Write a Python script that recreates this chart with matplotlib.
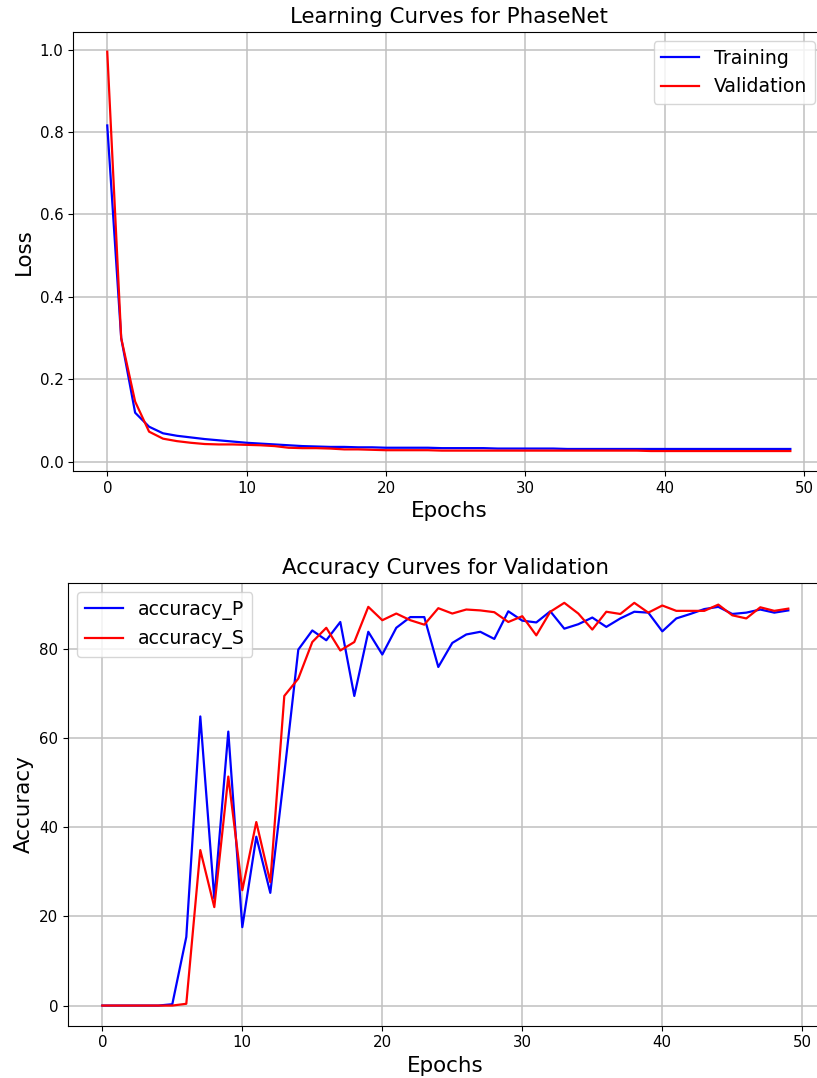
import numpy as np
import matplotlib
matplotlib.use("Agg")
import matplotlib.pyplot as plt

epochs = list(range(50))

train_loss = [0.816, 0.300, 0.119, 0.085, 0.069, 0.063, 0.059, 0.055, 0.052, 0.049,
              0.046, 0.044, 0.042, 0.040, 0.038, 0.037, 0.036, 0.036, 0.035, 0.035,
              0.034, 0.034, 0.034, 0.034, 0.033, 0.033, 0.033, 0.033, 0.032, 0.032,
              0.032, 0.032, 0.032, 0.031, 0.031, 0.031, 0.031, 0.031, 0.031, 0.031,
              0.031, 0.031, 0.031, 0.031, 0.031, 0.031, 0.031, 0.031, 0.031, 0.031]
val_loss = [0.995, 0.300, 0.146, 0.073, 0.056, 0.050, 0.046, 0.043, 0.042, 0.042,
            0.041, 0.040, 0.038, 0.034, 0.033, 0.033, 0.032, 0.030, 0.030, 0.029,
            0.028, 0.028, 0.028, 0.028, 0.027, 0.027, 0.027, 0.027, 0.027, 0.027,
            0.027, 0.027, 0.027, 0.027, 0.027, 0.027, 0.027, 0.027, 0.027, 0.026,
            0.026, 0.026, 0.026, 0.026, 0.026, 0.026, 0.026, 0.026, 0.026, 0.026]

acc_P = [0.0, 0.0, 0.0, 0.0, 0.0, 0.3, 15.4, 64.9, 24.0, 61.5,
         17.6, 37.9, 25.3, 52.0, 79.9, 84.2, 82.0, 86.1, 69.5, 83.9,
         78.8, 84.8, 87.2, 87.2, 76.0, 81.4, 83.3, 83.9, 82.3, 88.5,
         86.4, 86.0, 88.5, 84.6, 85.6, 87.1, 85.0, 86.9, 88.4, 88.2,
         84.0, 86.9, 87.9, 89.0, 89.5, 87.9, 88.2, 88.9, 88.2, 88.7]
acc_S = [0.0, 0.0, 0.0, 0.0, 0.0, 0.0, 0.4, 34.9, 22.1, 51.4,
         25.9, 41.2, 27.7, 69.5, 73.4, 81.6, 84.8, 79.7, 81.6, 89.5,
         86.5, 88.0, 86.5, 85.5, 89.2, 88.0, 88.9, 88.7, 88.3, 86.1,
         87.4, 83.1, 88.4, 90.4, 88.0, 84.4, 88.4, 87.9, 90.4, 88.2,
         89.8, 88.6, 88.6, 88.6, 90.0, 87.6, 86.9, 89.4, 88.6, 89.1]

tick_fs = 10.8
label_fs = 15.4
legend_fs = 13.6
lw = 1.6

fig = plt.figure(figsize=(8.17, 10.78), dpi=100)

ax1 = fig.add_axes([73.1 / 817, 1 - 471 / 1078, 751.4 / 817, 439.3 / 1078])
ax1.plot(epochs, train_loss, color="blue", lw=lw, label="Training")
ax1.plot(epochs, val_loss, color="red", lw=lw, label="Validation")
ax1.set_title("Learning Curves for PhaseNet", fontsize=label_fs)
ax1.set_xlabel("Epochs", fontsize=label_fs)
ax1.set_ylabel("Loss", fontsize=label_fs)
ax1.grid(True, color="#c0c0c0", lw=1.1)
ax1.tick_params(labelsize=tick_fs)
ax1.legend(fontsize=legend_fs, loc="upper right")

ax2 = fig.add_axes([68.0 / 817, 1 - 1025.7 / 1078, 754.6 / 817, 443.0 / 1078])
ax2.plot(epochs, acc_P, color="blue", lw=lw, label="accuracy_P")
ax2.plot(epochs, acc_S, color="red", lw=lw, label="accuracy_S")
ax2.set_title("Accuracy Curves for Validation", fontsize=label_fs)
ax2.set_xlabel("Epochs", fontsize=label_fs)
ax2.set_ylabel("Accuracy", fontsize=label_fs)
ax2.grid(True, color="#c0c0c0", lw=1.1)
ax2.tick_params(labelsize=tick_fs)
ax2.legend(fontsize=legend_fs, loc="upper left")

fig.savefig("out.png", dpi=100)
